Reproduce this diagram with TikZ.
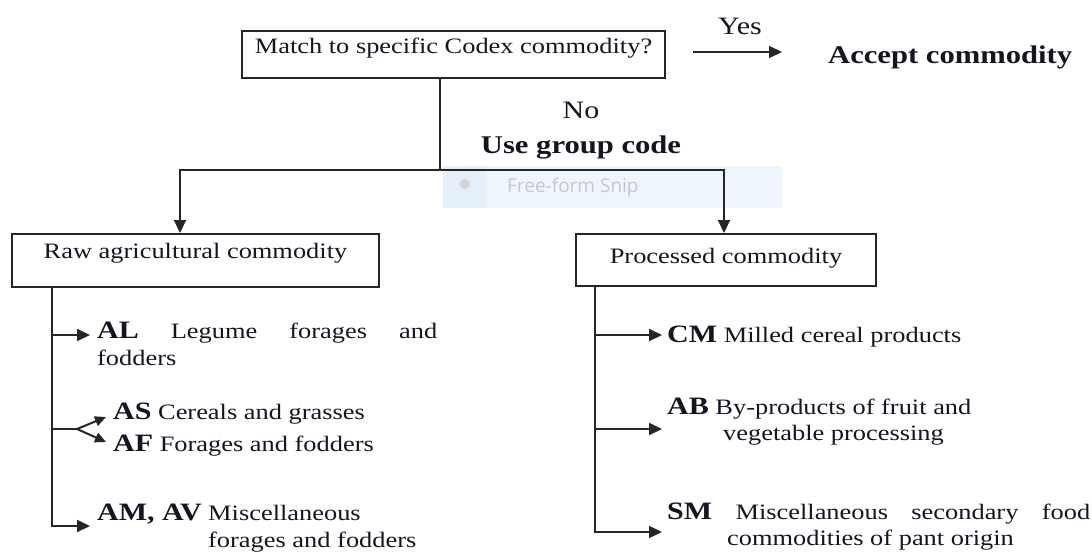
\documentclass[tikz,border=0pt]{standalone}
\usepackage{fontspec}
\setmainfont{Liberation Serif}[FakeStretch=1.2]
\newfontfamily\snipfont{Open Sans}
\usetikzlibrary{arrows.meta}
\definecolor{lncol}{HTML}{262626}
\definecolor{txcol}{HTML}{141422}
\definecolor{snipbg}{HTML}{EEF5FD}
\definecolor{snipcell}{HTML}{E4EFFA}
\definecolor{sniptx}{HTML}{C6C6C6}
\definecolor{snipdot}{HTML}{D4D4D4}
\newcommand\codelab[1]{{\fontsize{25}{28}\selectfont\bfseries #1}}
\begin{document}
\begin{tikzpicture}[x=1pt,y=-1pt,
  ln/.style={draw=lncol, line width=2pt},
  arr/.style={ln, -{Triangle[length=13pt,width=12pt]}},
  sarr/.style={ln, -{Triangle[length=11pt,width=10pt]}},
  cbox/.style={draw=lncol, line width=2pt, inner sep=0pt, align=center, text=txcol, font=\fontsize{22}{26}\selectfont},
  txt/.style={inner sep=0pt, text=txcol, font=\fontsize{22}{26}\selectfont, anchor=base west},
  big/.style={inner sep=0pt, text=txcol, font=\fontsize{25}{28}\selectfont, anchor=base},
  bigb/.style={inner sep=0pt, text=txcol, font=\fontsize{25.5}{28}\selectfont\bfseries, anchor=base}]
\fill[white] (0,0) rectangle (1092,552);
\useasboundingbox (0,0) rectangle (1092,552);

% screenshot overlay
\fill[snipbg] (443,166) rectangle (782,208);
\fill[snipcell] (443,166) rectangle (487,208);
\fill[snipdot] (465,184) circle (5);
\node[inner sep=0pt, anchor=base west, text=sniptx, font=\snipfont\fontsize{19}{22}\selectfont] (snip) at (507,192) {Free-form Snip};

% boxes
\node[cbox, minimum width=423pt, text height=22pt, text depth=25pt, anchor=base] (q) at (453.5,53) {Match to specific Codex commodity?};
\node[cbox, minimum width=367pt, text height=24pt, text depth=29pt, anchor=base] (raw) at (195.5,258) {Raw agricultural commodity};
\node[cbox, minimum width=300pt, text height=29pt, text depth=23pt, anchor=base] (proc) at (726,263) {Processed commodity};

% labels
\node[big] (yes) at (740,34) {Yes};
\node[big] (no) at (581,118) {No};
\node[bigb] (use) at (581,153) {Use group code};
\node[bigb, anchor=base west] (acc) at (828,63) {Accept commodity};

% top connectors
\coordinate (ys) at (693,52);
\coordinate (ye) at (782,52);
\draw[arr] (ys) -- (ye);
\coordinate (trunk) at (440,170);
\coordinate (lb) at (180,170);
\coordinate (rb) at (724,170);
\draw[ln] (q.south -| trunk) -- (trunk);
\draw[arr] (trunk) -| (lb |- raw.north);
\draw[arr] (trunk) -| (rb |- proc.north);

% left branch
\coordinate (alE) at (90,335);
\coordinate (fk) at (77,429);
\coordinate (asE) at (106,417);
\coordinate (afE) at (106,442);
\coordinate (amE) at (90,526);
\coordinate (ltr) at (52,526);
\draw[arr] (raw.south -| ltr) |- (amE);
\draw[arr] (ltr |- alE) -- (alE);
\draw[ln] (ltr |- fk) -- (fk);
\draw[sarr] (fk) -- (asE);
\draw[sarr] (fk) -- (afE);

% right branch
\coordinate (cmE) at (662,335);
\coordinate (abE) at (662,429);
\coordinate (smE) at (662,532);
\coordinate (rtr) at (595,532);
\draw[arr] (proc.south -| rtr) |- (smE);
\draw[arr] (rtr |- cmE) -- (cmE);
\draw[arr] (rtr |- abE) -- (abE);

% item texts
\node[txt] (al1) at (97,338) {\makebox[340pt][s]{\codelab{AL} Legume forages and}};
\node[txt] (al2) at (97,365) {fodders};
\node[txt] (as) at (113,419) {\codelab{AS} Cereals and grasses};
\node[txt] (af) at (113,451) {\codelab{AF} Forages and fodders};
\node[txt] (am1) at (97,520) {\codelab{AM, AV} Miscellaneous};
\node[txt] (am2) at (208,547) {forages and fodders};
\node[txt] (cm) at (667,342) {\codelab{CM} Milled cereal products};
\node[txt] (ab1) at (667,414) {\codelab{AB} By-products of fruit and};
\node[txt] (ab2) at (723,440) {vegetable processing};
\node[txt] (sm1) at (667,519) {\makebox[423pt][s]{\codelab{SM} Miscellaneous secondary food}};
\node[txt] (sm2) at (727,545) {commodities of pant origin};
\end{tikzpicture}
\end{document}
